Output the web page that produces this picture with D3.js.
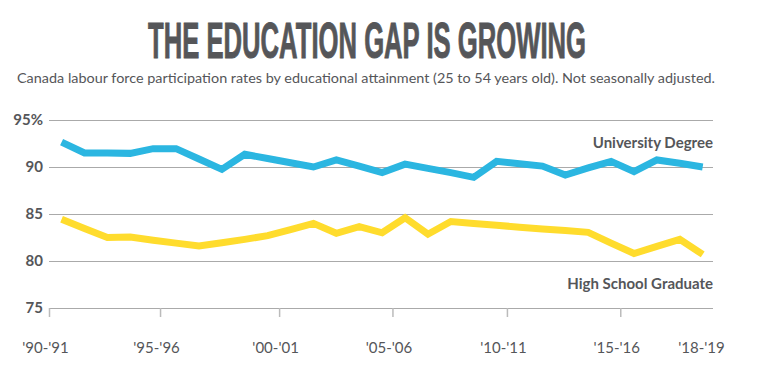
<!DOCTYPE html>
<html>
<head>
<meta charset="utf-8">
<script src="https://cdn.jsdelivr.net/npm/d3@7"></script>
<style>
  body { margin: 0; background: #fff; }
  svg { display: block; overflow: visible; }
</style>
</head>
<body>
<div id="chart"></div>
<script>
// Start year of each fiscal year ('90-'91 -> 1990)
const years = [1990, 1991, 1992, 1993, 1994, 1995, 1996, 1997, 1998, 1999,
  2000, 2001, 2002, 2003, 2004, 2005, 2006, 2007, 2008, 2009,
  2010, 2011, 2012, 2013, 2014, 2015, 2016, 2017, 2018]

// Participation rates (%)
const university = [92.65, 91.5, 91.5, 91.45, 91.95, 91.95, 90.85, 89.75, 91.35, 90.9,
  90.45, 90.0, 90.75, 90.1, 89.4, 90.3, 89.85, 89.4, 88.9, 90.6,
  90.35, 90.1, 89.15, 89.9, 90.6, 89.5, 90.75, 90.4, 90.0]

const highSchool = [84.45, 83.45, 82.5, 82.55, 82.2, 81.9, 81.6, 81.95, 82.3, 82.7,
  83.35, 84.0, 82.95, 83.65, 83.0, 84.6, 82.85, 84.2, 84.0, 83.8,
  83.6, 83.4, 83.25, 83.05, 81.9, 80.8, 81.55, 82.3, 80.7]

// Axis ticks
const yTicks = [75, 80, 85, 90, 95]
const xTickAt = [1989.45, 1994.3, 1999.5, 2004.45, 2009.45, 2014.4, 2018.1]
const xTickLabels = ["'90-'91", "'95-'96", "'00-'01", "'05-'06", "'10-'11", "'15-'16", "'18-'19"]

const width = 760
const height = 376
const margin = { top: 120, right: 47, bottom: 68, left: 49 }
const innerWidth = width - margin.left - margin.right
const innerHeight = height - margin.top - margin.bottom

const textColor = '#555659'
const gridColor = '#aaaaaa'
const font = 'Lato, sans-serif'

const svg = d3.select('#chart')
  .append('svg')
  .attr('width', width)
  .attr('height', height)
  .attr('font-family', font)

// Title and subtitle
svg.append('text')
  .attr('x', 148)
  .attr('y', 58)
  .attr('textLength', 438)
  .attr('lengthAdjust', 'spacingAndGlyphs')
  .attr('font-family', '"Liberation Sans Narrow", "Liberation Sans", sans-serif')
  .attr('font-weight', 700)
  .attr('font-size', 50)
  .attr('fill', textColor)
  .attr('stroke', textColor)
  .attr('stroke-width', 1)
  .text('THE EDUCATION GAP IS GROWING')

svg.append('text')
  .attr('x', 17)
  .attr('y', 83)
  .attr('textLength', 698)
  .attr('lengthAdjust', 'spacingAndGlyphs')
  .attr('font-size', 13)
  .attr('fill', textColor)
  .text('Canada labour force participation rates by educational attainment (25 to 54 years old). Not seasonally adjusted.')

const g = svg.append('g')
  .attr('transform', `translate(${margin.left},${margin.top})`)

// Scales
const x = d3.scaleLinear()
  .domain([1989.45, 2018.45])
  .range([0, innerWidth])

const y = d3.scaleLinear()
  .domain([75, 95])
  .range([innerHeight, 0])

// Y axis with gridlines
const yAxis = d3.axisLeft(y)
  .tickValues(yTicks)
  .tickSize(-innerWidth)
  .tickPadding(6)
  .tickFormat((d) => (d === 95 ? '95%' : d))

const yAxisGroup = g.append('g')
  .call(yAxis)
  .attr('font-family', font)
  .attr('font-size', 15)
  .attr('font-weight', 700)
yAxisGroup.select('.domain').remove()
yAxisGroup.selectAll('line')
  .attr('stroke', gridColor)
  .attr('stroke-width', 1.2)
yAxisGroup.selectAll('text').attr('fill', textColor)

// X axis
const xAxis = d3.axisBottom(x)
  .tickValues(xTickAt)
  .tickSize(9)
  .tickFormat((d, i) => xTickLabels[i])

const xAxisGroup = g.append('g')
  .attr('transform', `translate(0,${innerHeight})`)
  .call(xAxis)
  .attr('font-family', font)
  .attr('font-size', 15)
xAxisGroup.select('.domain').remove()
xAxisGroup.selectAll('line')
  .attr('stroke', '#bbbbbb')
  .attr('stroke-width', 1.5)
xAxisGroup.selectAll('.tick').filter((d, i) => i === xTickAt.length - 1)
  .select('line').remove()
xAxisGroup.selectAll('text')
  .attr('y', 45)
  .attr('dy', 0)
  .attr('dx', -4)
  .attr('fill', textColor)

// Lines
const line = d3.line()
  .x((d) => x(d[0]))
  .y((d) => y(d[1]))

const series = [
  { name: 'University Degree', values: university, color: '#2bb6e1', labelY: 28 },
  { name: 'High School Graduate', values: highSchool, color: '#ffdc2d', labelY: 169 },
]

g.selectAll('.series-line')
  .data(series)
  .enter()
  .append('path')
  .attr('class', 'series-line')
  .attr('fill', 'none')
  .attr('stroke', (d) => d.color)
  .attr('stroke-width', 7)
  .attr('stroke-linejoin', 'miter')
  .attr('d', (d) => line(years.map((yr, i) => [yr, d.values[i]])))

// Series labels
g.selectAll('.series-label')
  .data(series)
  .enter()
  .append('text')
  .attr('class', 'series-label')
  .attr('x', innerWidth)
  .attr('y', (d) => d.labelY)
  .attr('text-anchor', 'end')
  .attr('font-size', 15)
  .attr('font-weight', 700)
  .attr('fill', textColor)
  .text((d) => d.name)
</script>
</body>
</html>
